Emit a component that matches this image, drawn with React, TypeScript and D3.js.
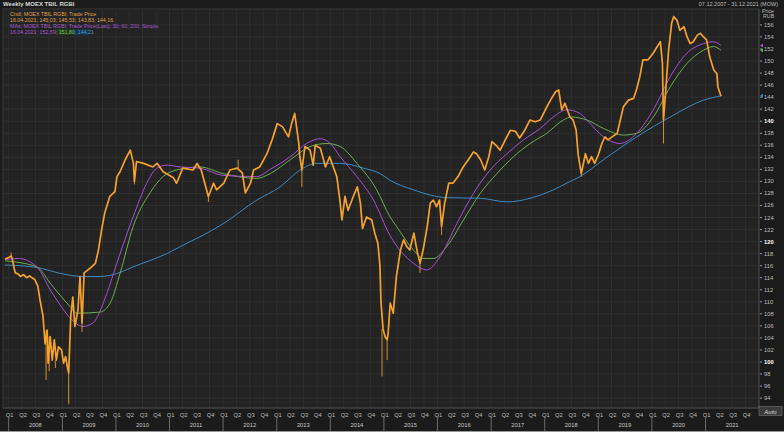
import React from "react";
import * as d3 from "d3";

// ---------- DATA ----------
const priceDates = [
  "2007-12-07","2007-12-28","2008-01-18","2008-01-25","2008-02-08","2008-02-15","2008-03-07","2008-03-21","2008-04-11","2008-05-02",
  "2008-05-23","2008-06-13","2008-06-27","2008-07-18","2008-08-01","2008-08-22","2008-09-05","2008-09-19","2008-09-26","2008-10-10",
  "2008-10-24","2008-11-07","2008-11-21","2008-12-05","2008-12-26","2009-01-09","2009-01-23","2009-02-06","2009-02-13","2009-02-27",
  "2009-03-13","2009-03-27","2009-04-17","2009-05-01","2009-05-15","2009-05-29","2009-07-10","2009-08-14","2009-09-04","2009-09-25",
  "2009-10-16","2009-11-20","2009-12-25","2010-01-08","2010-01-29","2010-03-05","2010-04-09","2010-04-30","2010-05-07","2010-05-21",
  "2010-07-09","2010-09-10","2010-10-08","2010-11-19","2011-01-28","2011-02-18","2011-04-01","2011-06-10","2011-07-08","2011-08-05",
  "2011-09-23","2011-10-28","2011-11-18","2012-01-06","2012-02-17","2012-04-06","2012-05-11","2012-06-01","2012-07-06","2012-07-27",
  "2012-09-07","2012-10-26","2012-11-30","2013-01-04","2013-02-08","2013-03-22","2013-04-12","2013-05-03","2013-05-31","2013-06-07",
  "2013-06-21","2013-07-12","2013-08-16","2013-09-06","2013-09-20","2013-10-25","2013-11-29","2013-12-27","2014-02-14","2014-03-07",
  "2014-03-21","2014-04-11","2014-05-02","2014-06-06","2014-07-04","2014-07-25","2014-08-08","2014-09-05","2014-10-10","2014-10-31",
  "2014-11-21","2014-12-05","2014-12-12","2014-12-26","2015-01-09","2015-01-23","2015-01-30","2015-02-13","2015-03-06","2015-03-27",
  "2015-04-24","2015-05-15","2015-06-05","2015-06-26","2015-07-24","2015-08-14","2015-09-04","2015-09-25","2015-10-23","2015-11-13",
  "2015-12-04","2015-12-25","2016-01-15","2016-01-29","2016-02-19","2016-03-18","2016-04-15","2016-05-20","2016-06-24","2016-07-29",
  "2016-09-02","2016-09-23","2016-10-21","2016-11-18","2016-12-16","2017-01-06","2017-02-10","2017-03-03","2017-04-07","2017-05-12",
  "2017-06-16","2017-07-14","2017-08-18","2017-09-22","2017-10-27","2017-12-01","2018-01-05","2018-02-09","2018-03-16","2018-04-06",
  "2018-04-27","2018-05-18","2018-06-08","2018-06-22","2018-07-13","2018-08-03","2018-08-17","2018-09-07","2018-10-05","2018-10-26",
  "2018-11-16","2018-12-07","2019-01-04","2019-01-25","2019-02-15","2019-03-08","2019-04-05","2019-05-10","2019-05-31","2019-06-21",
  "2019-07-26","2019-08-30","2019-09-20","2019-10-11","2019-11-01","2019-12-06","2020-01-10","2020-02-07","2020-02-28","2020-03-13",
  "2020-03-20","2020-04-03","2020-04-24","2020-05-15","2020-05-29","2020-06-19","2020-07-10","2020-08-07","2020-08-28","2020-09-18",
  "2020-10-09","2020-11-06","2020-11-27","2020-12-18","2021-01-08","2021-01-29","2021-02-26","2021-03-19","2021-03-26","2021-04-16",
];
const priceClose = [
  117.1,117.3,117.6,117.2,115.5,114.8,114.6,114.2,114.5,114.0,
  114.3,113.9,113.7,112.6,110.4,107.6,103.0,105.3,99.8,104.2,
  100.3,103.7,100.3,102.5,102.0,99.8,100.9,98.9,98.2,107.5,
  110.8,105.9,108.6,114.2,106.5,114.8,115.6,116.4,118.6,121.9,
  124.7,127.5,128.3,130.8,131.6,133.6,135.2,133.0,130.0,133.3,
  133.0,132.4,133.0,131.6,130.6,129.7,132.2,131.9,133.0,131.9,
  127.5,129.7,128.6,129.7,131.9,132.2,131.4,128.1,129.7,131.9,
  132.4,134.6,136.9,139.6,139.1,137.4,139.6,141.3,136.3,134.1,
  131.9,135.8,135.2,132.7,136.0,135.5,132.4,134.1,130.8,126.9,
  123.6,127.5,125.2,127.5,129.1,126.4,122.2,124.1,123.6,121.4,
  119.7,116.0,110.0,105.5,104.2,103.7,104.8,109.8,108.1,114.2,
  118.6,120.3,119.2,118.6,121.4,118.6,116.4,118.6,122.5,126.4,
  126.9,125.8,126.9,122.5,126.4,129.7,129.7,130.8,132.4,133.6,
  134.9,134.6,133.6,131.9,134.1,136.6,135.8,135.2,136.9,138.5,
  138.3,137.2,138.5,140.2,139.9,140.2,141.9,143.5,144.9,145.2,
  141.9,143.0,141.6,140.7,140.2,138.5,134.4,131.3,134.6,133.0,
  134.1,133.0,134.6,136.3,137.4,136.9,137.4,138.0,140.2,142.4,
  143.5,143.8,145.4,147.4,150.2,150.2,151.3,152.4,153.2,149.6,
  140.2,144.6,151.8,156.3,157.4,156.8,155.1,155.7,154.0,152.9,
  153.2,154.3,154.6,154.0,153.5,150.7,148.5,147.9,145.7,144.16,
];

// candle wicks (date, extreme value)
const wickDates = ["2008-01-18","2008-09-12","2008-10-03","2008-11-14","2009-02-13","2009-05-15","2010-05-07","2011-09-23","2012-04-13","2013-06-21","2014-12-19","2015-01-23","2015-09-04","2016-01-29","2018-09-07","2020-03-20"];
const wickValues = [118.2,97.0,98.5,99.0,93.0,105.0,129.5,126.6,133.6,129.1,97.6,100.3,114.8,121.1,130.8,136.3];

// 30-week simple moving average (purple)
const ma30Dates = ["2007-12-07","2008-03-07","2008-07-11","2008-10-10","2008-12-16","2009-02-23","2009-05-22","2009-07-29","2009-10-31","2010-01-07","2010-04-28","2010-07-30","2010-10-06","2010-12-13","2011-03-14","2011-07-28","2012-01-01","2012-08-18","2012-11-17","2013-04-03","2013-07-24","2013-10-24","2014-01-01","2014-03-09","2014-07-01","2014-10-22","2015-02-12","2015-07-21","2015-10-20","2016-01-19","2016-05-12","2016-09-02","2016-12-25","2017-04-18","2017-08-09","2017-12-01","2018-03-01","2018-05-31","2018-08-29","2018-10-15","2019-02-05","2019-05-30","2019-09-20","2020-01-11","2020-05-05","2020-08-27","2020-12-18","2021-02-23","2021-04-16"];
const ma30Values = [117.0,117.2,115.8,112.0,109.5,107.3,105.9,106.5,111.4,116.4,124.1,129.7,132.2,132.7,132.4,132.2,131.0,130.8,132.0,134.1,136.3,137.1,136.3,134.1,130.8,126.9,121.0,116.4,115.3,117.5,123.0,128.0,131.9,134.6,136.9,138.8,140.7,141.9,141.3,140.2,137.4,136.3,138.0,141.9,147.4,151.3,152.9,153.2,152.59];

// 60-week simple moving average (green)
const ma60Dates = ["2007-12-07","2008-07-11","2008-10-10","2008-12-16","2009-02-23","2009-04-09","2009-09-15","2009-11-23","2010-01-30","2010-04-28","2010-08-21","2010-11-18","2011-02-19","2011-07-28","2012-01-01","2012-08-18","2012-11-17","2013-04-03","2013-08-17","2013-12-08","2014-03-09","2014-07-01","2014-11-13","2015-02-12","2015-03-29","2015-07-21","2015-09-27","2015-12-04","2016-03-05","2016-06-26","2016-10-18","2017-02-09","2017-06-02","2017-09-24","2018-01-15","2018-05-08","2018-07-04","2018-10-15","2019-02-05","2019-06-21","2019-09-20","2020-01-11","2020-05-05","2020-08-27","2020-12-18","2021-02-23","2021-04-16"];
const ma60Values = [116.8,115.8,113.1,111.1,109.2,108.1,108.3,109.8,114.8,122.5,128.1,130.8,131.9,132.4,131.3,130.5,131.3,133.6,135.8,136.3,135.8,133.0,128.6,124.1,122.5,118.6,117.2,117.2,119.2,123.6,128.0,131.3,134.1,136.3,138.0,140.2,140.7,140.2,138.8,137.7,138.0,140.7,145.7,149.6,151.8,152.4,151.8];

// 200-week simple moving average (blue)
const ma200Dates = ["2007-12-07","2008-06-16","2009-02-01","2009-05-22","2009-09-15","2010-01-07","2010-04-28","2010-12-13","2011-05-21","2011-07-28","2012-01-03","2012-08-18","2013-01-24","2013-06-09","2013-10-01","2014-03-09","2014-08-15","2014-12-06","2015-02-12","2015-07-21","2016-03-05","2016-10-18","2017-04-18","2017-09-24","2018-03-01","2018-06-23","2018-08-29","2019-02-05","2019-09-20","2020-05-05","2020-12-18","2021-04-16"];
const ma200Values = [116.1,115.8,114.5,114.2,114.2,114.7,115.8,118.0,120.0,120.8,123.0,126.9,129.1,131.9,133.0,133.0,132.2,131.3,130.2,128.6,127.3,127.2,126.6,127.2,128.6,130.0,130.8,133.6,137.4,140.7,143.5,144.21];

const yTickValues = [94,96,98,100,102,104,106,108,110,112,114,116,118,120,122,124,126,128,130,132,134,136,138,140,142,144,146,148,150,152,154,156];
const boldTicks = [100,120,140];
const years = [2008,2009,2010,2011,2012,2013,2014,2015,2016,2017,2018,2019,2020,2021];
const quarterNames = ["Q1","Q2","Q3","Q4"];

const legendLines = [
  "Cndl; MOEX TBIL RGBI; Trade Price",
  "16.04.2021; 145,03; 145,53; 143,83; 144,16",
  "MAs; MOEX TBIL RGBI; Trade Price(Last); 30; 60; 200; Simple",
];
const maLastValues = ["152,59","151,80","144,21"];

// ---------- STYLE ----------
const W = 784, H = 432;
const PL = 3, PR = 759, PT = 9, PB = 408;
const C = {
  bg: "#1b1b1b",
  plot: "#232323",
  grid: "#2f2f2f",
  orange: "#f5a22c",
  purple: "#a94fd6",
  green: "#6caf4f",
  blue: "#3b8ac4",
  text: "#bdbdbd",
};
const FONT = "'Liberation Sans', Arial, sans-serif";

export default function App() {
  const parse = d3.timeParse("%Y-%m-%d");
  const x = d3.scaleTime().domain([parse("2007-12-07")!, parse("2021-12-31")!]).range([5, 759]);
  const y = d3.scaleLinear().domain([92.36, 158.64]).range([PB, PT]);

  const price = priceDates.map((d, i) => ({ d: parse(d)!, v: priceClose[i] }));
  const line = d3.line<{ d: Date; v: number }>().x(p => x(p.d)).y(p => y(p.v));
  const smooth = d3.line<{ d: Date; v: number }>().x(p => x(p.d)).y(p => y(p.v)).curve(d3.curveMonotoneX);
  const mk = (ds: string[], vs: number[]) => ds.map((d, i) => ({ d: parse(d)!, v: vs[i] }));

  const wicks = wickDates.map((d, i) => {
    const dd = parse(d)!;
    const bis = d3.bisector((p: { d: Date }) => p.d).center(price, dd);
    return { x: x(dd), y1: y(price[bis].v), y2: y(wickValues[i]) };
  });

  const quarters: Date[] = [];
  years.forEach(yr => [0, 3, 6, 9].forEach(m => quarters.push(new Date(yr, m, 1))));

  const ma = [
    { ds: ma200Dates, vs: ma200Values, c: C.blue },
    { ds: ma60Dates, vs: ma60Values, c: C.green },
    { ds: ma30Dates, vs: ma30Values, c: C.purple },
  ];

  return (
    <svg width={W} height={H} style={{ position: "fixed", left: 0, top: 0, display: "block" }} fontFamily={FONT}>
      <rect x={0} y={0} width={W} height={H} fill={C.bg} />
      <rect x={PL} y={PT} width={PR - PL} height={PB - PT} fill={C.plot} />
      {/* grid */}
      {yTickValues.map(t => (
        <line key={"h" + t} x1={PL} x2={PR} y1={y(t)} y2={y(t)} stroke={C.grid} strokeWidth={1} />
      ))}
      {quarters.map((q, i) => (
        <line key={"v" + i} x1={x(q)} x2={x(q)} y1={PT} y2={PB} stroke={C.grid} strokeWidth={1} />
      ))}
      <rect x={PL} y={PT} width={PR - PL} height={PB - PT} fill="none" stroke="#3a3a3a" />

      {/* moving averages */}
      {ma.map((m, i) => (
        <path key={"ma" + i} d={smooth(mk(m.ds, m.vs)) || ""} fill="none" stroke={m.c} strokeWidth={1} />
      ))}

      {/* candles as line + wicks */}
      {wicks.map((w, i) => (
        <line key={"w" + i} x1={w.x} x2={w.x} y1={w.y1} y2={w.y2} stroke={C.orange} strokeWidth={1} opacity={0.85} />
      ))}
      <path d={line(price) || ""} fill="none" stroke={C.orange} strokeWidth={1.7} strokeLinejoin="round" />

      {/* header */}
      <text x={3} y={6} fontSize={6} fontWeight="bold" fill="#d8d8d8">Weekly MOEX TBIL RGBI</text>
      <text x={778} y={5.5} fontSize={5.5} fill="#bbbbbb" textAnchor="end">07.12.2007 - 31.12.2021 (MOW)</text>

      {/* legend */}
      <rect x={6} y={9.5} width={152} height={27} fill="none" stroke="#2a2a2a" />
      <text x={10} y={15.5} fontSize={5.3} fill="#e0a24a">{legendLines[0]}</text>
      <text x={10} y={21.5} fontSize={5.3} fill="#e0a24a">{legendLines[1]}</text>
      <text x={10} y={27.5} fontSize={5.3} fill="#a85ad0">{legendLines[2]}</text>
      <rect x={55} y={29} width={16} height={6} fill="#1e3a1a" />
      <rect x={72} y={29} width={16} height={6} fill="#14324a" />
      <text x={10} y={33.8} fontSize={5.3}>
        <tspan fill="#a85ad0">16.04.2021; {maLastValues[0]}; </tspan>
        <tspan fill="#7fc45a">{maLastValues[1]}</tspan>
        <tspan fill="#a85ad0">; </tspan>
        <tspan fill="#4aa0d8">{maLastValues[2]}</tspan>
      </text>

      {/* right axis */}
      <line x1={PR} x2={PR} y1={PT} y2={PB} stroke="#444" />
      <text x={762} y={12.5} fontSize={5.3} fill={C.text}>Price</text>
      <text x={763} y={17.5} fontSize={5.3} fill={C.text}>RUB</text>
      {yTickValues.map(t => (
        <g key={"yt" + t}>
          <line x1={760} x2={762} y1={y(t)} y2={y(t)} stroke="#999" />
          <text x={764} y={y(t) + 2} fontSize={5.8} fill={boldTicks.includes(t) ? "#ffffff" : C.text} fontWeight={boldTicks.includes(t) ? "bold" : "normal"}>{t}</text>
        </g>
      ))}
      {[{ v: ma30Values[ma30Values.length - 1], c: C.purple }, { v: ma60Values[ma60Values.length - 1], c: C.green }, { v: ma200Values[ma200Values.length - 1], c: C.blue }].map((m, i) => (
        <path key={"mk" + i} d={`M${760},${y(m.v)} l3,-2 v4 z`} fill={m.c} />
      ))}

      {/* bottom axis */}
      <line x1={PL} x2={PR} y1={PB} y2={PB} stroke="#444" />
      {quarters.map((q, i) => (
        <text key={"q" + i} x={x(q) + 1} y={416.5} fontSize={5.8} fill={C.text} textAnchor="middle">{quarterNames[i % 4]}</text>
      ))}
      {years.map(yr => (
        <g key={"y" + yr}>
          <line x1={x(new Date(yr, 0, 1))} x2={x(new Date(yr, 0, 1))} y1={417} y2={432} stroke="#6a6a6a" />
          <text x={x(new Date(yr, 6, 1))} y={427} fontSize={5.8} fill="#c8c8c8" textAnchor="middle">{yr}</text>
        </g>
      ))}
      <rect x={759} y={406.5} width={23} height={9} fill="#3a3a3a" stroke="#777" strokeWidth={0.6} />
      <text x={770.5} y={413.5} fontSize={6} fill="#dddddd" textAnchor="middle" fontStyle="italic">Auto</text>
      <rect x={0} y={431} width={W} height={1} fill="#9a9a9a" />
    </svg>
  );
}
